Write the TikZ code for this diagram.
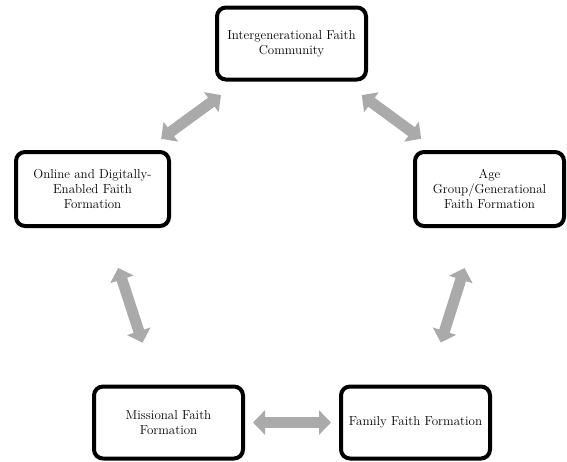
\documentclass[tikz,border=0pt]{standalone}
\usepackage{tikz}
\usetikzlibrary{shapes, arrows.meta, positioning}
\definecolor{arrowgray}{RGB}{170,170,170}

\begin{document}
\begin{tikzpicture}[x=1pt, y=-1pt]
\tikzset{
    faithbox/.style={rectangle, rounded corners=9pt, draw=black, fill=white, line width=4pt, minimum width=149pt, minimum height=72pt, align=center, inner sep=2pt, font=\fontsize{13}{15}\selectfont},
    linkarrow/.style={draw=arrowgray, line width=11pt, {Triangle[width=24pt, length=12pt]}-{Triangle[width=24pt, length=12pt]}}
}
\useasboundingbox (0,0) rectangle (567,461);
\node[faithbox](intergen) at (291.5,43.5) {Intergenerational Faith\\Community};
\node[faithbox, minimum width=153pt, minimum height=74pt](online) at (92.5,189) {Online and Digitally-\\Enabled Faith\\Formation};
\node[faithbox, minimum height=74pt](agegroup) at (489.5,189) {Age\\Group/Generational\\Faith Formation};
\node[faithbox](missional) at (168.5,422.5) {Missional Faith\\Formation};
\node[faithbox](family) at (415.5,422.5) {Family Faith Formation};
\draw[linkarrow, shorten <=19pt, shorten >=23pt] (online) -- (intergen);
\draw[linkarrow, shorten <=23pt, shorten >=19pt] (intergen) -- (agegroup);
\draw[linkarrow, shorten <=42pt, shorten >=44pt] (online) -- (missional);
\draw[linkarrow, shorten <=42pt, shorten >=44pt] (agegroup) -- (family);
\draw[linkarrow, shorten <=8pt, shorten >=8pt] (missional) -- (family);
\end{tikzpicture}
\end{document}
